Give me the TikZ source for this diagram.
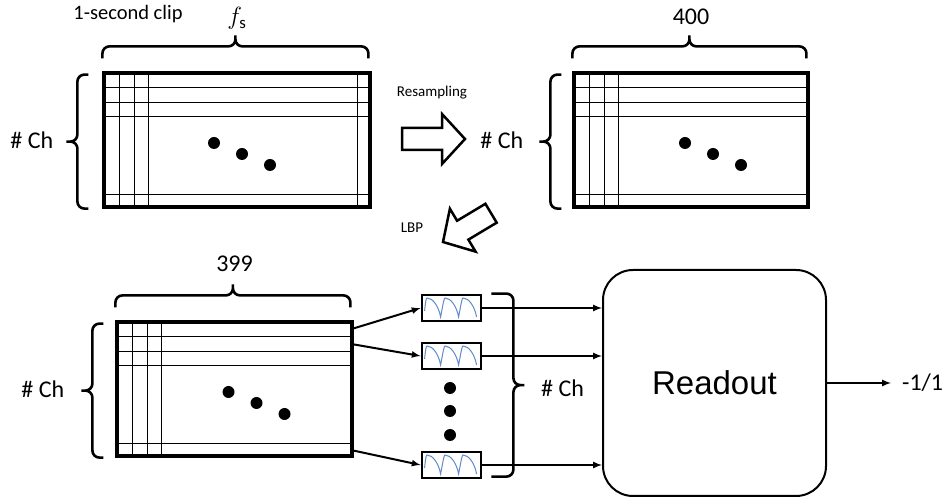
\documentclass[tikz,border=0pt]{standalone}
\usepackage{fontspec}
\setmainfont{Carlito}
\newfontfamily\readoutfont{Liberation Sans}
\usepackage{tikz}
\usetikzlibrary{shapes,arrows}
\definecolor{spikeblue}{RGB}{95,140,200}

% rows and columns inside a data matrix
\newcommand{\gridlines}[1]{%
  \foreach \d in {16,31,45}
    \draw[thinline] ([yshift=-\d]#1.north west) -- ([yshift=-\d]#1.north east);
  \draw[thinline] ([yshift=14]#1.south west) -- ([yshift=14]#1.south east);
  \foreach \d in {17,32,46}
    \draw[thinline] ([xshift=\d]#1.north west) -- ([xshift=\d]#1.south west);
}
% three dots on a diagonal
\newcommand{\diagdots}[2]{%
  \foreach \i in {0,1,2}
    \fill ([xshift=#2+28*\i, yshift=-3-11*\i]#1.center) circle (6);
}
% spike train inside a filter box
\newcommand{\spikes}[1]{%
  \draw[wave, shift={(#1.west)}] (4,-3)
    \foreach \i in {0,18,36} {
      .. controls (\i+5,7) and (\i+5.5,10) .. (\i+6.5,10)
      .. controls (\i+12,10) and (\i+18,2) .. (\i+20,-9)
    };
}
% hollow block arrow
\newcommand{\fatarrow}[3]{%
  \draw[fat, shift={(#1)}, rotate=#2]
    (0,0) -- (-23,25) -- (-23,11) -- (-#3,11) -- (-#3,-11) -- (-23,-11) -- (-23,-25) -- cycle;
}
% curly brace: start, angle, length, depth of the back
\newcommand{\curly}[4]{%
  \draw[bracepen, shift={(#1)}, rotate=#2]
    (0,0) |- (#3/2,#4) -- (#3/2,#4+11)
    (#3,0) |- (#3/2,#4) -- (#3/2,#4+11);
}

\begin{document}
\begin{tikzpicture}[x=1pt, y=1pt,
    datamat/.style={draw, line width=3.2pt, inner sep=0pt, minimum height=134pt},
    thinline/.style={line width=1.5pt},
    filterbox/.style={draw, line width=2.8pt, fill=white, inner sep=0pt,
      minimum width=59pt, minimum height=26pt},
    wave/.style={spikeblue, line width=1pt},
    bracepen/.style={line width=2.6pt, rounded corners=7pt},
    fat/.style={line width=2.5pt, line join=miter},
    link/.style={line width=2pt, -latex},
    lbl/.style={font=\fontsize{24}{28}\selectfont, inner sep=0pt},
    small/.style={font=\fontsize{15}{18}\selectfont},
  ]
  \useasboundingbox (0,0) rectangle (952,497);

  % data matrices
  \node[datamat, minimum width=266pt] (m1) at (237,357) {};
  \node[datamat, minimum width=234pt] (m2) at (691,357) {};
  \node[datamat, minimum width=235pt] (m3) at (234.5,108) {};
  \gridlines{m1}
  \gridlines{m2}
  \gridlines{m3}
  \draw[thinline] ([xshift=-14]m1.north east) -- ([xshift=-14]m1.south east);
  \diagdots{m1}{-23}
  \diagdots{m2}{-6}
  \diagdots{m3}{-6}

  % braces
  \coordinate (t1) at ([yshift=13]m1.north west);
  \coordinate (s1) at ([xshift=-14]m1.south west);
  \coordinate (t2) at ([yshift=13]m2.north west);
  \coordinate (s2) at ([xshift=-11]m2.south west);
  \coordinate (t3) at ([yshift=13]m3.north west);
  \coordinate (s3) at ([xshift=-12]m3.south west);
  \curly{t1}{0}{266}{12}
  \curly{s1}{90}{134}{11}
  \curly{t2}{0}{234}{12}
  \curly{s2}{90}{134}{11}
  \curly{t3}{0}{235}{12}
  \curly{s3}{90}{134}{11}

  % labels
  \node[font=\fontsize{20.5}{24}\selectfont] (clip) at (128,483) {1-second clip};
  \node[lbl] (fs) at ([yshift=53]m1.north) {$f_{\mathrm{s}}$};
  \node[lbl] (n400) at ([yshift=55]m2.north) {400};
  \node[lbl] (n399) at ([yshift=57]m3.north) {399};
  \node[lbl, anchor=east] (ch1) at ([xshift=-49]m1.west) {\# Ch};
  \node[lbl, anchor=east] (ch2) at ([xshift=-49]m2.west) {\# Ch};
  \node[lbl, anchor=east] (ch3) at ([xshift=-51]m3.west) {\# Ch};

  % processing steps
  \node[small] (resamp) at (432,404) {Resampling};
  \node[small] (lbp) at (412,269) {LBP};
  \coordinate (restip) at (465,358);
  \coordinate (lbptip) at (443,255);
  \fatarrow{restip}{0}{63}
  \fatarrow{lbptip}{210.9}{56}

  % filter boxes
  \node[filterbox] (f1) at (451.5,189) {};
  \node[filterbox] (f2) at (451.5,141) {};
  \node[filterbox] (f3) at (451.5,32) {};
  \spikes{f1}
  \spikes{f2}
  \spikes{f3}
  \foreach \y in {109,86,62}
    \fill (450,\y) circle (6);
  \coordinate (s4) at ([xshift=9]f1.north east);
  \curly{s4}{-90}{183}{22}
  \node[lbl, anchor=west] (ch4) at (541,109) {\# Ch};

  % rows into filters
  \coordinate (r1) at ([yshift=-8]m3.north east);
  \coordinate (r2) at ([yshift=-24]m3.north east);
  \coordinate (r3) at ([yshift=7]m3.south east);
  \draw[link] (r1) -- (f1.west);
  \draw[link] (r2) -- (f2.west);
  \draw[link] (r3) -- (f3.west);

  % readout
  \node[draw, line width=2pt, rounded corners=30pt, minimum width=223pt,
    minimum height=226pt, font=\readoutfont\fontsize{33}{38}\selectfont]
    (readout) at (714.5,114) {Readout};
  \draw[link] (f1.east) -- (f1.east -| readout.west);
  \draw[link] (f2.east) -- (f2.east -| readout.west);
  \draw[link] (f3.east) -- (f3.east -| readout.west);
  \node[lbl, anchor=west] (res) at (902,114) {-1/1};
  \draw[link, shorten >=11pt] (readout.east) -- (res.west);
\end{tikzpicture}
\end{document}
